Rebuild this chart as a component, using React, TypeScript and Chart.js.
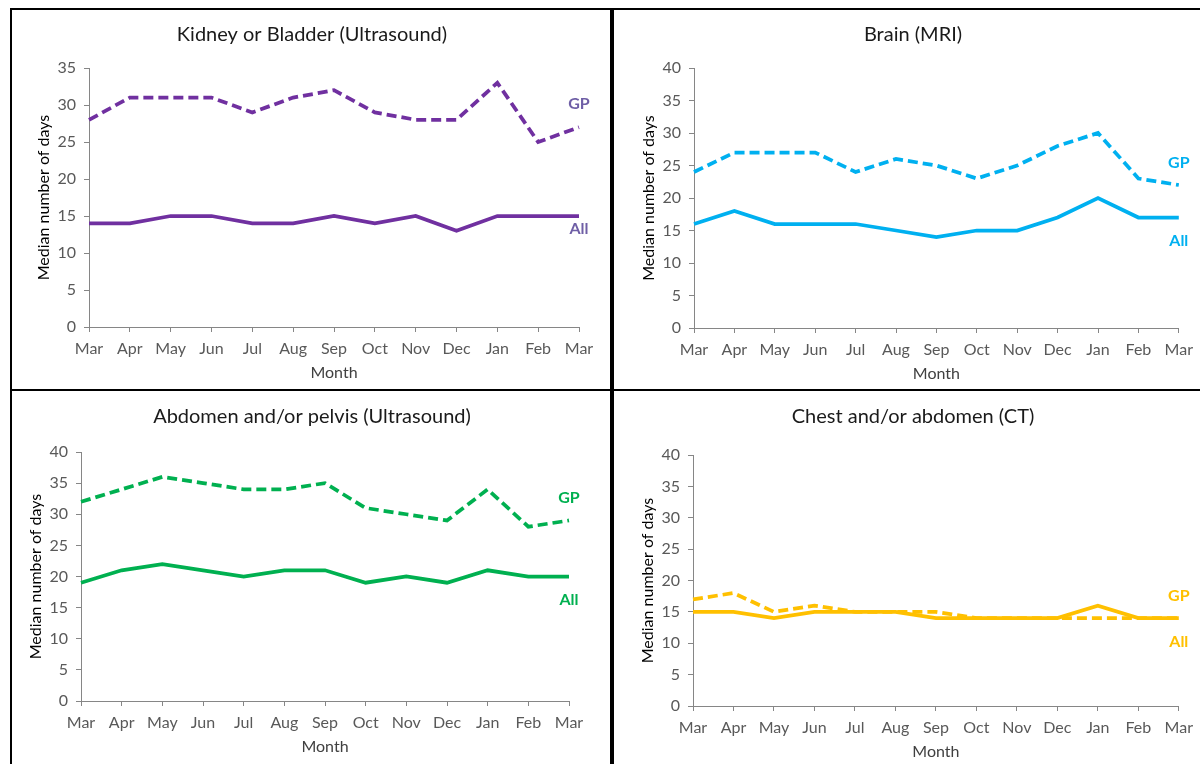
import { useEffect, useRef } from "react";
import { Chart, registerables } from "chart.js";

Chart.register(...registerables);

// Month axis (March to March)
const months = ["Mar", "Apr", "May", "Jun", "Jul", "Aug", "Sep", "Oct", "Nov", "Dec", "Jan", "Feb", "Mar"];

// Kidney or Bladder (Ultrasound)
const kidneyGP = [28, 31, 31, 31, 29, 31, 32, 29, 28, 28, 33, 25, 27];
const kidneyAll = [14, 14, 15, 15, 14, 14, 15, 14, 15, 13, 15, 15, 15];

// Brain (MRI)
const brainGP = [24, 27, 27, 27, 24, 26, 25, 23, 25, 28, 30, 23, 22];
const brainAll = [16, 18, 16, 16, 16, 15, 14, 15, 15, 17, 20, 17, 17];

// Abdomen and/or pelvis (Ultrasound)
const abdomenGP = [32, 34, 36, 35, 34, 34, 35, 31, 30, 29, 34, 28, 29];
const abdomenAll = [19, 21, 22, 21, 20, 21, 21, 19, 20, 19, 21, 20, 20];

// Chest and/or abdomen (CT)
const chestGP = [17, 18, 15, 16, 15, 15, 15, 14, 14, 14, 14, 14, 14];
const chestAll = [15, 15, 14, 15, 15, 15, 14, 14, 14, 14, 16, 14, 14];

const seriesNames = ["GP", "All"];

const FONT = "Lato, 'Open Sans', 'DejaVu Sans', sans-serif";
const PAGE_W = 1200;
const PAGE_H = 764;
const Y_BOX = 55;
const X_BOX = 55;

type Panel = {
  title: string;
  gp: number[];
  all: number[];
  color: string;
  labelColor: string;
  yMax: number;
  // where the series name labels sit, in axis units
  gpLabelAt: number;
  allLabelAt: number;
  area: { left: number; top: number; right: number; bottom: number };
  titlePos: { x: number; y: number };
};

const panels: Panel[] = [
  {
    title: "Kidney or Bladder (Ultrasound)",
    gp: kidneyGP,
    all: kidneyAll,
    color: "#7030A0",
    labelColor: "#6F5FA6",
    yMax: 35,
    gpLabelAt: 30.1,
    allLabelAt: 13.2,
    area: { left: 89, top: 68, right: 579, bottom: 327 },
    titlePos: { x: 312, y: 35 },
  },
  {
    title: "Brain (MRI)",
    gp: brainGP,
    all: brainAll,
    color: "#00B0F0",
    labelColor: "#00B0F0",
    yMax: 40,
    gpLabelAt: 25.4,
    allLabelAt: 13.4,
    area: { left: 694, top: 68, right: 1184, bottom: 328 },
    titlePos: { x: 913, y: 35 },
  },
  {
    title: "Abdomen and/or pelvis (Ultrasound)",
    gp: abdomenGP,
    all: abdomenAll,
    color: "#00B050",
    labelColor: "#00B050",
    yMax: 40,
    gpLabelAt: 32.6,
    allLabelAt: 16.3,
    area: { left: 81, top: 452, right: 569, bottom: 701 },
    titlePos: { x: 312, y: 417 },
  },
  {
    title: "Chest and/or abdomen (CT)",
    gp: chestGP,
    all: chestAll,
    color: "#FFC000",
    labelColor: "#FFC000",
    yMax: 40,
    gpLabelAt: 17.6,
    allLabelAt: 10.2,
    area: { left: 693, top: 455, right: 1181, bottom: 706 },
    titlePos: { x: 913, y: 417 },
  },
];

function PanelChart({ panel }: { panel: Panel }) {
  const ref = useRef<HTMLCanvasElement | null>(null);

  useEffect(() => {
    if (!ref.current) return;
    const { area } = panel;

    const annotate = {
      id: "panelText",
      afterDraw(chart: any) {
        const ctx = chart.ctx;
        const xs = chart.scales.x;
        const ys = chart.scales.y;
        ctx.save();
        ctx.textAlign = "center";
        ctx.textBaseline = "middle";
        ctx.fillStyle = "#1a1a1a";
        ctx.font = `20px ${FONT}`;
        ctx.fillText(panel.title, panel.titlePos.x, panel.titlePos.y);

        const lastX = xs.getPixelForValue(months.length - 1);
        ctx.fillStyle = panel.labelColor;
        ctx.font = `bold 16px ${FONT}`;
        ctx.fillText(seriesNames[0], lastX, ys.getPixelForValue(panel.gpLabelAt));
        ctx.fillText(seriesNames[1], lastX, ys.getPixelForValue(panel.allLabelAt));
        ctx.restore();
      },
    };

    const chart = new Chart(ref.current, {
      type: "line",
      data: {
        labels: months,
        datasets: [
          {
            label: seriesNames[0],
            data: panel.gp,
            borderColor: panel.color,
            backgroundColor: panel.color,
            borderWidth: 3.75,
            borderDash: [10, 5],
            pointRadius: 0,
            tension: 0,
          },
          {
            label: seriesNames[1],
            data: panel.all,
            borderColor: panel.color,
            backgroundColor: panel.color,
            borderWidth: 3.75,
            pointRadius: 0,
            tension: 0,
          },
        ],
      },
      options: {
        animation: false,
        responsive: false,
        events: [],
        layout: {
          padding: {
            left: area.left - Y_BOX,
            right: PAGE_W - area.right,
            top: area.top,
            bottom: PAGE_H - area.bottom - X_BOX,
          },
        },
        plugins: {
          legend: { display: false },
          title: { display: false },
          tooltip: { enabled: false },
        },
        scales: {
          x: {
            type: "category",
            offset: false,
            grid: {
              drawOnChartArea: false,
              drawTicks: true,
              tickLength: 5,
              color: "#868686",
            },
            border: { color: "#868686", width: 1 },
            ticks: {
              color: "#595959",
              font: { family: FONT, size: 16 },
              padding: 7,
              maxRotation: 0,
              autoSkip: false,
            },
            title: {
              display: true,
              text: "Month",
              color: "#404040",
              font: { family: FONT, size: 16 },
              padding: 0,
            },
            afterFit(scale: any) {
              scale.height = X_BOX;
            },
          },
          y: {
            min: 0,
            max: panel.yMax,
            grid: {
              drawOnChartArea: false,
              drawTicks: true,
              tickLength: 5,
              color: "#868686",
            },
            border: { color: "#868686", width: 1 },
            ticks: {
              stepSize: 5,
              color: "#595959",
              font: { family: FONT, size: 16 },
              padding: 8,
            },
            title: {
              display: true,
              text: "Median number of days",
              color: "#000000",
              font: { family: FONT, size: 16 },
              padding: 0,
            },
            afterFit(scale: any) {
              scale.width = Y_BOX;
            },
          },
        },
      },
      plugins: [annotate],
    });

    return () => chart.destroy();
  }, [panel]);

  return (
    <canvas
      ref={ref}
      width={PAGE_W}
      height={PAGE_H}
      style={{ position: "absolute", left: 0, top: 0, width: PAGE_W, height: PAGE_H }}
    />
  );
}

const line = (style: React.CSSProperties) => (
  <div style={{ position: "absolute", background: "#000", ...style }} />
);

export default function App() {
  return (
    <div
      style={{
        position: "fixed",
        left: 0,
        top: 0,
        width: PAGE_W,
        height: PAGE_H,
        background: "#fff",
        overflow: "hidden",
      }}
    >
      {panels.map((p, i) => (
        <PanelChart key={i} panel={p} />
      ))}
      {line({ left: 10, top: 8, width: PAGE_W - 10, height: 2 })}
      {line({ left: 10, top: 8, width: 2, height: PAGE_H - 8 })}
      {line({ left: 610, top: 8, width: 4, height: PAGE_H - 8 })}
      {line({ left: 10, top: 389, width: PAGE_W - 10, height: 2 })}
    </div>
  );
}
